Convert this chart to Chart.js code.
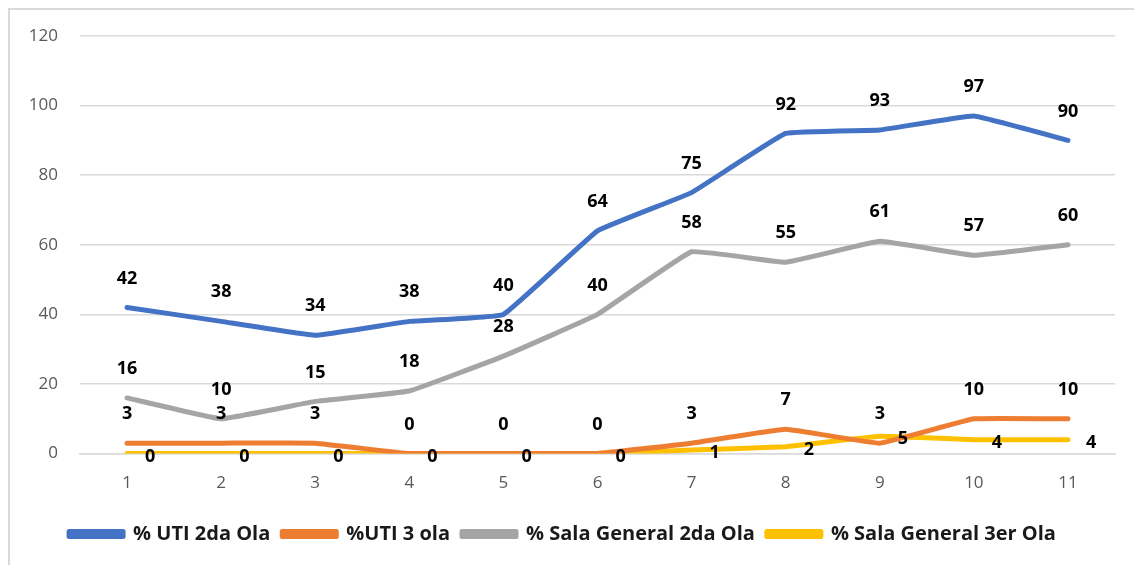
<!DOCTYPE html>
<html>
<head>
<meta charset="utf-8">
<script src="https://cdn.jsdelivr.net/npm/chart.js@4/dist/chart.umd.min.js"></script>
<style>
  html, body { margin: 0; padding: 0; background: #fff; }
  #box { position: relative; width: 1134px; height: 565px; }
  #frame { position: absolute; left: 8px; top: 8px; right: -10px; bottom: -10px;
           border-left: 2px solid #d9d9d9; border-top: 2px solid #d9d9d9; pointer-events: none; }
</style>
</head>
<body>
<div id="box">
  <canvas id="chart" width="1134" height="565"></canvas>
  <div id="frame"></div>
</div>
<script>
// Categories (weeks)
const categories = ['1', '2', '3', '4', '5', '6', '7', '8', '9', '10', '11'];

// Series values
const utiSegunda = [42, 38, 34, 38, 40, 64, 75, 92, 93, 97, 90];
const utiTercera = [3, 3, 3, 0, 0, 0, 3, 7, 3, 10, 10];
const salaSegunda = [16, 10, 15, 18, 28, 40, 58, 55, 61, 57, 60];
const salaTercera = [0, 0, 0, 0, 0, 0, 1, 2, 5, 4, 4];

// Y axis ticks
const yTicks = [0, 20, 40, 60, 80, 100, 120];

const fontFamily = '"Open Sans", "Liberation Sans", sans-serif';

// Simple data labels (no datalabels plugin available offline)
const labelPlugin = {
    id: 'valueLabels',
    afterDatasetsDraw(chart) {
        const ctx = chart.ctx;
        ctx.save();
        ctx.font = 'bold 18px ' + fontFamily;
        ctx.fillStyle = '#000';
        ctx.textBaseline = 'middle';
        chart.data.datasets.forEach((ds, i) => {
            const meta = chart.getDatasetMeta(i);
            meta.data.forEach((pt, j) => {
                const v = ds.data[j];
                if (ds.labelPos === 'right') {
                    ctx.textAlign = 'left';
                    ctx.fillText(v, pt.x + 18, pt.y + 3);
                } else {
                    ctx.textAlign = 'center';
                    ctx.fillText(v, pt.x, pt.y - 29);
                }
            });
        });
        ctx.restore();
    }
};

const ctxChart = document.getElementById('chart').getContext('2d');
const chart = new Chart(ctxChart, {
    type: 'line',
    data: {
        labels: categories,
        datasets: [{
            label: '% UTI 2da Ola',
            data: utiSegunda,
            borderColor: '#4472c4',
            backgroundColor: '#4472c4',
            labelPos: 'above'
        }, {
            label: '%UTI 3 ola',
            data: utiTercera,
            borderColor: '#ed7d31',
            backgroundColor: '#ed7d31',
            labelPos: 'above'
        }, {
            label: '% Sala General 2da Ola',
            data: salaSegunda,
            borderColor: '#a5a5a5',
            backgroundColor: '#a5a5a5',
            labelPos: 'above'
        }, {
            label: '% Sala General 3er Ola',
            data: salaTercera,
            borderColor: '#ffc000',
            backgroundColor: '#ffc000',
            labelPos: 'right'
        }]
    },
    options: {
        responsive: false,
        animation: false,
        devicePixelRatio: 1,
        layout: { padding: { top: 36, right: 19, left: 10, bottom: 11 } },
        elements: {
            line: { borderWidth: 5, tension: 0.08, borderCapStyle: 'round', borderJoinStyle: 'round' },
            point: { radius: 0, hoverRadius: 0 }
        },
        scales: {
            x: {
                offset: true,
                grid: { display: false, drawTicks: false },
                border: { display: true, color: '#d9d9d9', width: 1.5 },
                ticks: { color: '#595959', font: { family: fontFamily, size: 17 }, padding: 19 }
            },
            y: {
                min: 0,
                max: 120,
                afterBuildTicks(scale) {
                    scale.ticks = yTicks.map(v => ({ value: v }));
                },
                afterFit(scale) { scale.width = 70; },
                grid: { color: '#d9d9d9', lineWidth: 1.5, drawTicks: false },
                border: { display: false },
                ticks: { color: '#595959', font: { family: fontFamily, size: 17 }, padding: 22 }
            }
        },
        plugins: {
            legend: {
                position: 'bottom',
                labels: {
                    boxWidth: 54,
                    boxHeight: 5,
                    padding: 12,
                    color: '#1a1a1a',
                    font: { family: fontFamily, size: 20, weight: 'bold' }
                }
            },
            tooltip: { enabled: false }
        }
    },
    plugins: [labelPlugin]
});
</script>
</body>
</html>
